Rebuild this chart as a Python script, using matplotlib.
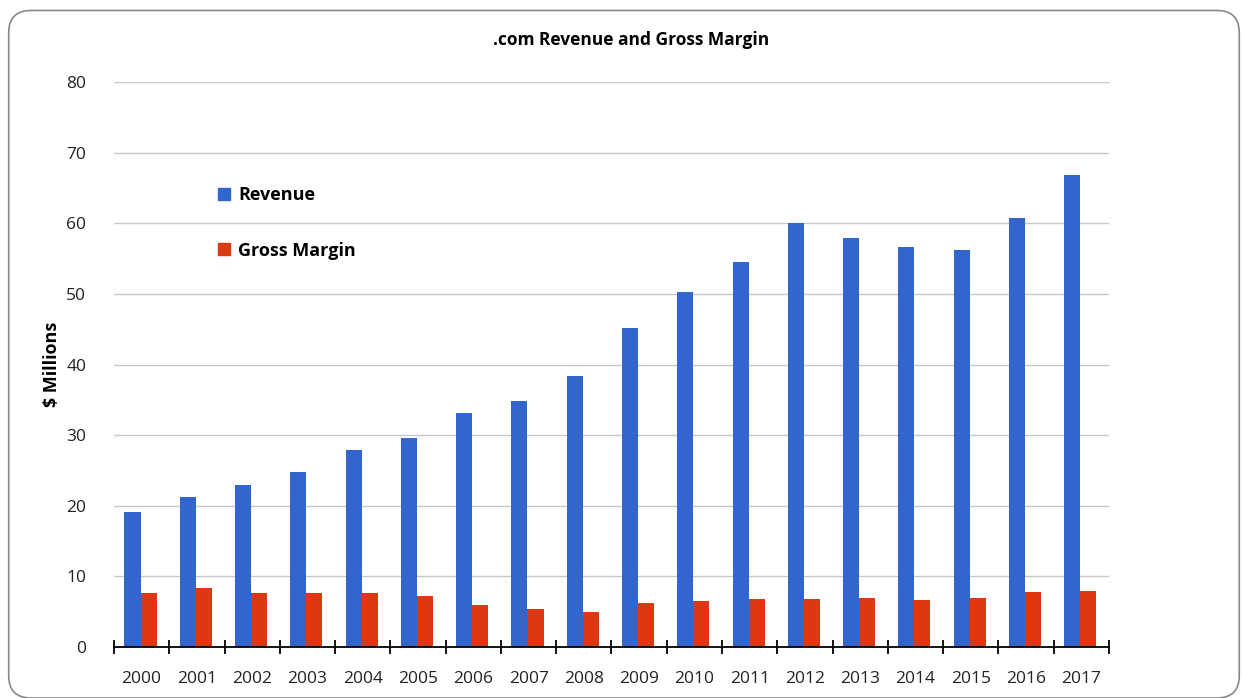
import matplotlib.pyplot as plt
import numpy as np
from matplotlib.patches import FancyBboxPatch
from matplotlib.lines import Line2D

years = [str(y) for y in range(2000, 2018)]
revenue = [19.1, 21.2, 22.9, 24.8, 27.9, 29.6, 33.1, 34.8, 38.4,
           45.2, 50.3, 54.5, 60.1, 57.9, 56.7, 56.2, 60.8, 66.9]
gross_margin = [7.6, 8.4, 7.6, 7.6, 7.6, 7.2, 5.9, 5.4, 5.0,
                6.2, 6.5, 6.8, 6.8, 6.9, 6.7, 6.9, 7.8, 7.9]

plt.rcParams['font.family'] = ['Open Sans', 'DejaVu Sans']

fig = plt.figure(figsize=(12.43, 6.98), dpi=100)
ax = fig.add_axes([0.0917, 0.073, 0.8005, 0.8095])

# rounded frame around the whole chart
frame = FancyBboxPatch((0.007, 0.0), 0.99, 0.985, boxstyle="round,pad=0,rounding_size=0.018",
                       transform=fig.transFigure, fill=False, edgecolor='#888888', linewidth=1.2,
                       mutation_aspect=1243 / 698)
fig.patches.append(frame)

x = np.arange(len(years))
w = 0.29
ax.bar(x - w / 2 - 0.02, revenue, w, color='#3366CC', zorder=3)
ax.bar(x + w / 2 - 0.02, gross_margin, w, color='#DC3912', zorder=3)

ax.set_xlim(-0.5, len(years) - 0.5)
ax.set_ylim(0, 80)
ax.set_yticks(range(0, 81, 10))
ax.grid(axis='y', color='#c8c8c8', linewidth=1, zorder=0)

for s in ['top', 'right', 'left']:
    ax.spines[s].set_visible(False)
ax.spines['bottom'].set_color('black')
ax.spines['bottom'].set_linewidth(1.3)
ax.spines['bottom'].set_zorder(4)

ax.set_xticks(x)
ax.set_xticklabels(years)
ax.set_xticks(np.arange(-0.5, len(years), 1), minor=True)
ax.tick_params(axis='x', which='major', length=0, pad=17, labelsize=12.5, colors='#222222')
ax.tick_params(axis='x', which='minor', length=10, direction='inout', width=1.3, color='black')
ax.tick_params(axis='y', length=0, pad=20, labelsize=12.5, colors='#222222')

ax.set_ylabel('\\$ Millions', fontsize=13, fontweight='bold', labelpad=4)
fig.text(0.508, 0.942, '.com Revenue and Gross Margin', ha='center', va='center',
         fontsize=12.5, fontweight='bold')

handles = [Line2D([], [], marker='s', linestyle='', color='#3366CC', markersize=8),
           Line2D([], [], marker='s', linestyle='', color='#DC3912', markersize=8)]
leg = ax.legend(handles, ['Revenue', 'Gross Margin'], loc='upper left',
                bbox_to_anchor=(0.085, 0.845), frameon=False, labelspacing=2.1,
                handletextpad=0.3, handlelength=1.0, prop={'size': 13, 'weight': 'bold'})

fig.savefig('out.png', dpi=100)
